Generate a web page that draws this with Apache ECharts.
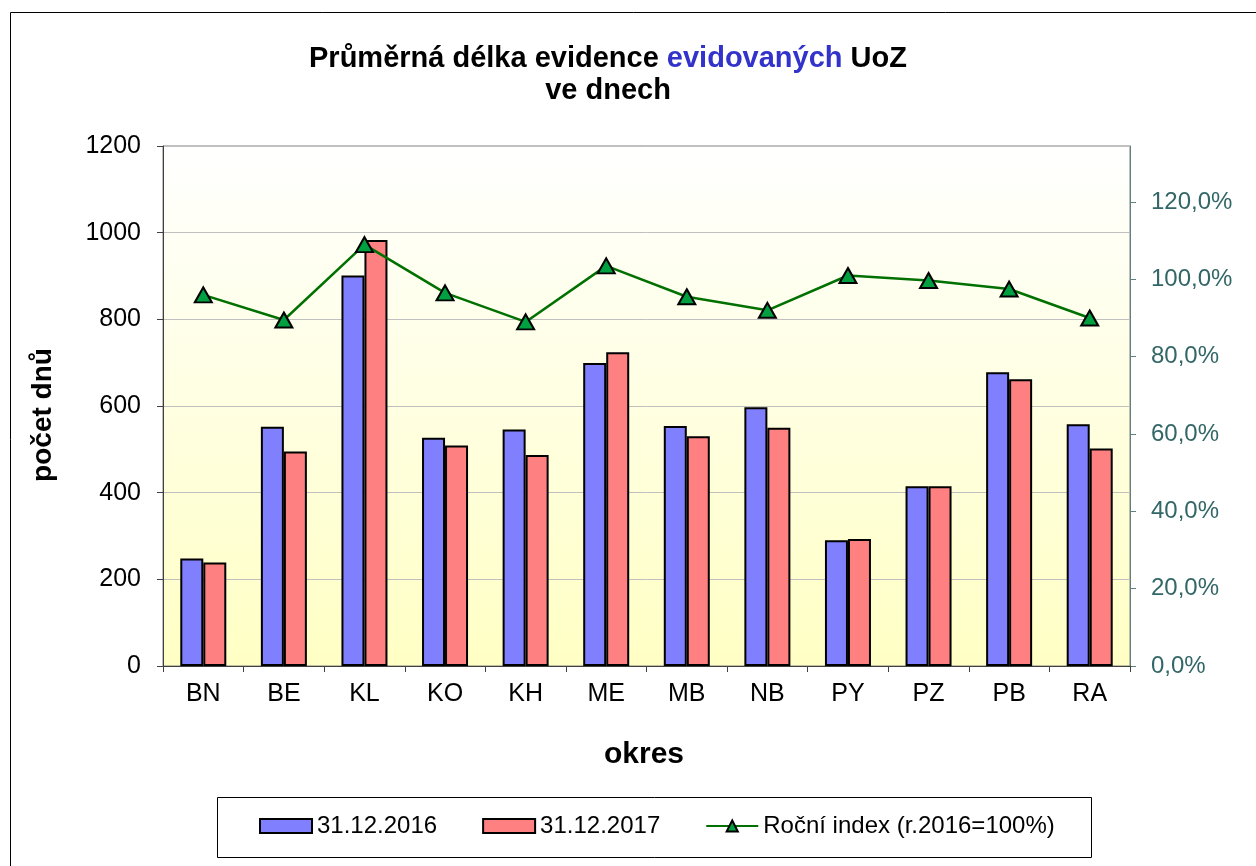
<!DOCTYPE html>
<html>
<head>
<meta charset="utf-8">
<script src="https://cdn.jsdelivr.net/npm/echarts@6/dist/echarts.min.js"></script>
<style>
  html, body { margin: 0; padding: 0; background: #fff; }
  #main { width: 1256px; height: 866px; }
</style>
</head>
<body>
<div id="main"></div>
<script>
// okresy
const okresy = ['BN', 'BE', 'KL', 'KO', 'KH', 'ME', 'MB', 'NB', 'PY', 'PZ', 'PB', 'RA'];
// průměrná délka evidence ve dnech
const dny2016 = [248, 552, 901, 527, 546, 699, 554, 597, 290, 415, 678, 558];
const dny2017 = [239, 495, 983, 509, 487, 724, 530, 550, 293, 415, 662, 502];
// roční index v %
const index = [96.0, 89.5, 109.0, 96.5, 89.0, 103.5, 95.5, 92.0, 101.0, 99.7, 97.5, 90.0];

const nazvySerii = ['31.12.2016', '31.12.2017', 'Roční index (r.2016=100%)'];

const font = 'Liberation Sans, Arial, sans-serif';
const chart = echarts.init(document.getElementById('main'));

// společný styl sloupců
function sloupec(name, data, color) {
  return {
    name,
    type: 'bar',
    data,
    barWidth: 23,
    barGap: '0%',
    itemStyle: { color, borderColor: '#000', borderWidth: 2 },
  };
}

// nadpisy (titulek, popisky os)
function popisek(text, x, y, size, extra = {}) {
  return Object.assign(
    {
      type: 'text',
      x,
      y,
      style: {
        text,
        align: 'center',
        verticalAlign: 'middle',
        fontFamily: font,
        fontSize: size,
        fontWeight: 'bold',
        fill: '#000',
      },
    },
    extra,
  );
}

chart.setOption({
  backgroundColor: '#fff',
  animation: false,
  textStyle: { fontFamily: font },
  graphic: [
    // rámeček celého grafu
    {
      type: 'rect',
      shape: { x: 10.5, y: 12.5, width: 1260, height: 870 },
      style: { fill: 'none', stroke: '#000', lineWidth: 1 },
    },
    // rámeček legendy
    {
      type: 'rect',
      shape: { x: 217.5, y: 797.5, width: 874, height: 60 },
      style: { fill: 'none', stroke: '#000', lineWidth: 1 },
    },
    // titulek
    {
      type: 'text',
      x: 608,
      y: 59,
      style: {
        text: '{a|Průměrná délka evidence }{b|evidovaných}{a| UoZ}',
        align: 'center',
        verticalAlign: 'middle',
        rich: {
          a: { fontFamily: font, fontSize: 29, fontWeight: 'bold', fill: '#000' },
          b: { fontFamily: font, fontSize: 29, fontWeight: 'bold', fill: '#3333CC' },
        },
      },
    },
    popisek('ve dnech', 608, 91, 29),
    popisek('počet dnů', 43, 415, 28, { rotation: Math.PI / 2 }),
    popisek('okres', 644, 755, 30),
  ],
  legend: {
    data: [
      { name: nazvySerii[0], icon: 'rect' },
      { name: nazvySerii[1], icon: 'rect' },
      { name: nazvySerii[2] },
    ],
    top: 814,
    left: 259,
    padding: 0,
    itemWidth: 52,
    itemHeight: 14,
    itemGap: 45,
    textStyle: { fontFamily: font, fontSize: 24, color: '#000' },
  },
  grid: {
    left: 163,
    right: 126,
    top: 146,
    bottom: 200,
    show: true,
    borderColor: '#808080',
    borderWidth: 1,
    backgroundColor: new echarts.graphic.LinearGradient(0, 0, 0, 1, [
      { offset: 0, color: '#FFFFFF' },
      { offset: 1, color: '#FFFFC4' },
    ]),
  },
  xAxis: {
    type: 'category',
    data: okresy,
    boundaryGap: true,
    axisLine: { lineStyle: { color: '#404040', width: 1 } },
    axisTick: { show: true, inside: false, length: 6, lineStyle: { color: '#404040' } },
    axisLabel: { margin: 16, fontFamily: font, fontSize: 25, color: '#000' },
  },
  yAxis: [
    {
      type: 'value',
      min: 0,
      max: 1200,
      interval: 200,
      axisLine: { show: true, lineStyle: { color: '#404040' } },
      axisTick: { show: true, length: 6, lineStyle: { color: '#404040' } },
      axisLabel: {
        margin: 22,
        fontFamily: font,
        fontSize: 25,
        color: '#000',
        formatter: (v) => String(v),
      },
      splitLine: { show: true, lineStyle: { color: '#C0C0C0', width: 1 } },
    },
    {
      type: 'value',
      min: 0,
      max: 134.5,
      interval: 20,
      position: 'right',
      axisLine: { show: true, lineStyle: { color: '#5F8080' } },
      axisTick: { show: true, length: 6, lineStyle: { color: '#5F8080' } },
      axisLabel: {
        margin: 21,
        showMaxLabel: false,
        fontFamily: font,
        fontSize: 24,
        color: '#336666',
        formatter: (v) => v.toFixed(1).replace('.', ',') + '%',
      },
      splitLine: { show: false },
    },
  ],
  series: [
    sloupec(nazvySerii[0], dny2016, '#8080FF'),
    sloupec(nazvySerii[1], dny2017, '#FF8080'),
    {
      name: nazvySerii[2],
      type: 'line',
      yAxisIndex: 1,
      data: index,
      symbol: 'triangle',
      symbolSize: [17, 15],
      lineStyle: { color: '#007000', width: 2.5 },
      itemStyle: { color: '#00A040', borderColor: '#000', borderWidth: 2 },
      z: 5,
    },
  ],
});
</script>
</body>
</html>
